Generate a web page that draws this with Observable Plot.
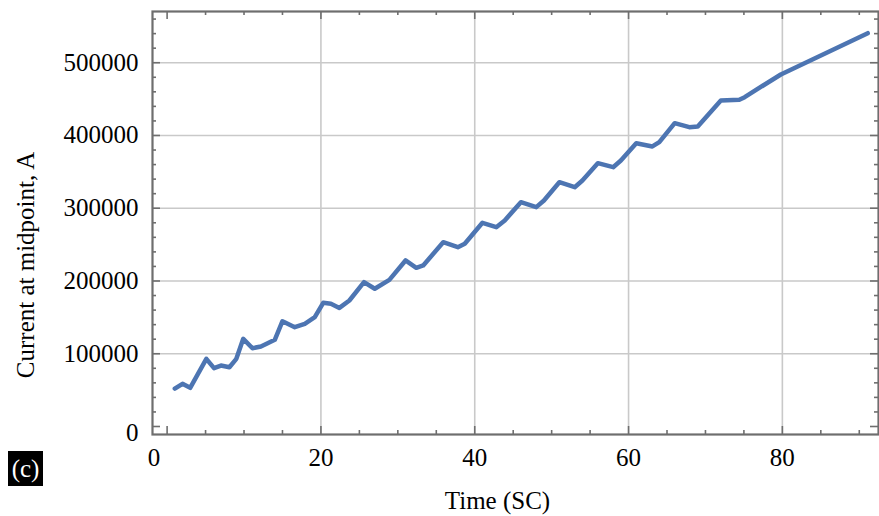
<!DOCTYPE html>
<html>
<head>
<meta charset="utf-8">
<script src="https://cdn.jsdelivr.net/npm/d3@7"></script>
<script src="https://cdn.jsdelivr.net/npm/@observablehq/plot@0.6"></script>
<style>
  html, body { margin: 0; padding: 0; background: white; }
  #wrap { position: relative; width: 879px; height: 516px; }
  #panel { position: absolute; left: 8px; top: 451px; width: 35px; height: 35px; background: black; color: white;
           font-family: "Liberation Serif", serif; font-size: 25px; line-height: 35px; text-align: center; }
</style>
</head>
<body>
<div id="wrap"><div id="panel">(c)</div></div>
<script>
// Time (SC)
const timeValues = [1, 2, 3, 5.1, 6.1, 7, 8.1, 9, 9.9, 11.1, 12.2, 14, 15, 16.6, 17.9, 19.2, 20.3, 21.3, 22.4, 23.7,
  25.6, 27, 28.9, 31, 32.4, 33.3, 35.9, 37.8, 38.7, 41, 42.8, 43.9, 46, 48, 49, 51, 53, 54, 56, 58, 59,
  61, 63.1, 64, 66, 67.9, 69, 72, 74.4, 75.1, 77.5, 79.8, 91.1];
// Current at midpoint, A
const currentValues = [52000, 58700, 53200, 93000, 80200, 83800, 81500, 93000, 120500, 107600, 110000, 119200,
  144700, 136500, 141200, 150200, 170000, 168700, 163000, 173200, 198400, 189300, 201600, 228200, 218100,
  221300, 253300, 246400, 251100, 280000, 274000, 283200, 308300, 301500, 310600, 335800, 328900, 338100,
  361900, 356400, 365600, 389400, 384900, 390800, 416900, 411400, 412400, 448100, 449000, 452600, 468700,
  483800, 540600];

const xMajorTicks = [0, 20, 40, 60, 80];
const xMinorTicks = [5, 10, 15, 25, 30, 35, 45, 50, 55, 65, 70, 75, 85, 90];
const yMajorTicks = [0, 100000, 200000, 300000, 400000, 500000];
const yMinorTicks = [20000, 40000, 60000, 80000, 120000, 140000, 160000, 180000, 220000, 240000, 260000, 280000,
  320000, 340000, 360000, 380000, 420000, 440000, 460000, 480000, 520000, 540000, 560000];
const xGridTicks = [20, 40, 60, 80];
const yGridTicks = [100000, 200000, 300000, 400000, 500000];

const data = timeValues.map((t, i) => ({t, c: currentValues[i]}));

const tickColor = "#6e6e6e";
const plotH = 516 - 11 - 82;
const plotW = 879 - 152 - 1;

const chart = Plot.plot({
  width: 879,
  height: 516,
  marginLeft: 152,
  marginRight: 1,
  marginTop: 11,
  marginBottom: 82,
  x: {domain: [-1.9, 92.5]},
  y: {domain: [-11000, 570400]},
  style: {fontFamily: "'Liberation Serif', serif", fontSize: "25px", background: "transparent", color: "black"},
  marks: [
    Plot.gridX(xGridTicks, {stroke: "#c9c9c9", strokeOpacity: 1, strokeWidth: 1.6}),
    Plot.gridY(yGridTicks, {stroke: "#c9c9c9", strokeOpacity: 1, strokeWidth: 1.6}),
    Plot.line(data, {x: "t", y: "c", stroke: "#4d75b2", strokeWidth: 4.5, strokeLinejoin: "round", strokeLinecap: "round"}),
    // inward ticks, bottom & top
    Plot.tickX(xMajorTicks, {x: d => d, insetTop: plotH - 8, stroke: tickColor, strokeWidth: 1.6}),
    Plot.tickX(xMinorTicks, {x: d => d, insetTop: plotH - 4, stroke: tickColor, strokeWidth: 1.6}),
    Plot.tickX(xMajorTicks, {x: d => d, insetBottom: plotH - 8, stroke: tickColor, strokeWidth: 1.6}),
    Plot.tickX(xMinorTicks, {x: d => d, insetBottom: plotH - 4, stroke: tickColor, strokeWidth: 1.6}),
    // inward ticks, left & right
    Plot.tickY(yMajorTicks, {y: d => d, insetRight: plotW - 8, stroke: tickColor, strokeWidth: 1.6}),
    Plot.tickY(yMinorTicks, {y: d => d, insetRight: plotW - 4, stroke: tickColor, strokeWidth: 1.6}),
    Plot.tickY(yMajorTicks, {y: d => d, insetLeft: plotW - 8, stroke: tickColor, strokeWidth: 1.6}),
    Plot.tickY(yMinorTicks, {y: d => d, insetLeft: plotW - 4, stroke: tickColor, strokeWidth: 1.6}),
    Plot.frame({stroke: tickColor, strokeWidth: 2.2}),
    // tick labels
    Plot.axisX([20, 40, 60, 80], {tickSize: 0, tickPadding: 14, label: null, fontSize: 25, tickFormat: d => String(d)}),
    Plot.axisX([0], {tickSize: 0, tickPadding: 14, label: null, fontSize: 25, dx: -13, tickFormat: d => String(d)}),
    Plot.axisY([100000, 200000, 300000, 400000, 500000], {tickSize: 0, tickPadding: 14, label: null, fontSize: 25, tickFormat: d => String(d)}),
    Plot.axisY([0], {tickSize: 0, tickPadding: 14, label: null, fontSize: 25, dy: 7, tickFormat: d => String(d)}),
    // axis titles
    Plot.text(["Time (SC)"], {frameAnchor: "bottom", dx: -18, dy: 66, textAnchor: "middle", lineAnchor: "middle", fontSize: 25, fill: "black"}),
    Plot.text(["Current at midpoint, A"], {frameAnchor: "left", dx: -127, dy: 42, rotate: -90, textAnchor: "middle", lineAnchor: "middle", fontSize: 25, fill: "black"})
  ]
});
chart.style.position = "absolute";
chart.style.left = "0px";
chart.style.top = "0px";
document.getElementById("wrap").prepend(chart);
</script>
</body>
</html>
